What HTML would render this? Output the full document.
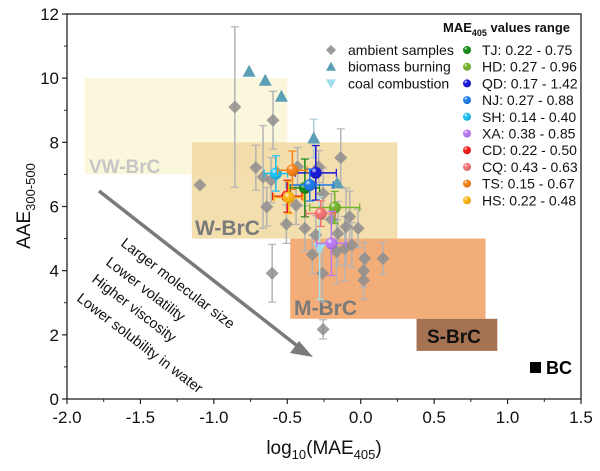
<!DOCTYPE html>
<html><head><meta charset="utf-8">
<style>
html,body{margin:0;padding:0;background:#fff;}
svg{display:block;font-family:"Liberation Sans",Arial,sans-serif;}
</style></head>
<body>
<svg id="chart" width="600" height="471" viewBox="0 0 600 471" xmlns="http://www.w3.org/2000/svg">
<defs>
<radialGradient id="shine" cx="0.35" cy="0.3" r="0.7">
<stop offset="0" stop-color="#fff" stop-opacity="0.85"/>
<stop offset="0.35" stop-color="#fff" stop-opacity="0"/>
<stop offset="1" stop-color="#000" stop-opacity="0.15"/>
</radialGradient>
</defs>
<g id="regions"></g>
<g id="arrowgrp"></g>
<g id="ambient"></g>
<g id="sources"></g>
<g id="sites"></g>
<g id="axes"></g>
<g id="legend"></g>
</svg>
<script>
// ---- data ----
const ambientX = [-1.095,-0.857,-0.597,-0.714,-0.665,-0.61,-0.64,-0.506,-0.136,-0.286,-0.43,-0.256,-0.075,-0.44,-0.38,-0.306,-0.603,-0.26,-0.256,-0.165,-0.109,-0.1,-0.018,0.027,0.152,0.02,0.02,-0.155,-0.2,-0.06,-0.33];
const ambientY = [6.67,9.1,8.69,7.21,6.92,6.82,5.99,5.45,7.52,7.24,7.24,6.4,5.68,6.04,5.32,5.11,3.92,3.92,2.17,4.59,4.69,5.37,5.32,4.38,4.38,4.0,3.7,5.16,5.6,4.8,4.5];
const ambientErr = [0,2.5,0.9,0.7,1.6,0.7,0.6,0.6,0.9,0.5,0.6,0.8,0.8,0.6,0.7,0.6,0.9,0.9,0.3,1.0,1.0,1.2,0.6,0.5,0.5,0.5,0.6,1.0,0.8,0.7,0.6];
const biomassX = [-0.76,-0.65,-0.54,-0.32,-0.16];
const biomassY = [10.2,9.92,9.42,8.12,6.72];
const biomassErr = [0,0,0,0.6,0];
const coalX = [-0.28];
const coalY = [4.7];
const coalErr = [1.6];
const siteNames = ["TJ","HD","QD","NJ","SH","XA","CD","CQ","TS","HS"];
const siteRanges = ["0.22 - 0.75","0.27 - 0.96","0.17 - 1.42","0.27 - 0.88","0.14 - 0.40","0.38 - 0.85","0.22 - 0.50","0.43 - 0.63","0.15 - 0.67","0.22 - 0.48"];
const siteColors = ["#138a13","#72b32a","#1414d8","#1b78ea","#18bff0","#bb78f2","#f01818","#f37070","#f58012","#fcb40e"];
const siteX = [-0.38,-0.177,-0.306,-0.347,-0.578,-0.2,-0.5,-0.272,-0.465,-0.49];
const siteY = [6.58,5.97,7.05,6.67,7.03,4.85,6.32,5.78,7.13,6.28];
const siteXErr = [0.1,0.17,0.14,0.16,0.08,0.1,0.1,0.1,0.1,0.1];
const siteYErr = [0.9,0.5,0.85,0.5,0.55,1.0,0.5,0.4,0.6,0.5];
const xTicks = ["-2.0","-1.5","-1.0","-0.5","0.0","0.5","1.0","1.5"];
const xTickVals = [-2,-1.5,-1,-0.5,0,0.5,1,1.5];
const yTickVals = [0,2,4,6,8,10,12];
const yTicks = ["0","2","4","6","8","10","12"];
const regionNames = ["VW-BrC","W-BrC","M-BrC","S-BrC"];
const regionX0 = [-1.88,-1.15,-0.48,0.38];
const regionX1 = [-0.5,0.25,0.85,0.93];
const regionY0 = [7,5,2.5,1.5];
const regionY1 = [10,8,5,2.5];

// ---- scales ----
const L=67,R=581,T=14,B=399;
const xs = v => L + (v+2)*(R-L)/3.5;
const ys = v => B - v*(B-T)/12;
const NS="http://www.w3.org/2000/svg";
function mk(tag, parent, attrs){const e=document.createElementNS(NS,tag);for(const k in attrs)e.setAttribute(k,attrs[k]);parent.appendChild(e);return e;}

// regions
const regG=document.getElementById('regions');
const regFill=["#fbf7dd","#f2dba6","#f3ad78","#a57352"];
const regOpacity=[1,0.92,1,1];
for(let i=0;i<regionNames.length;i++){
  const r=mk('rect',regG,{x:xs(regionX0[i]),y:ys(regionY1[i]),width:xs(regionX1[i])-xs(regionX0[i]),height:ys(regionY0[i])-ys(regionY1[i]),fill:regFill[i],'fill-opacity':regOpacity[i]});
  
  
}
const regLab=[[89,173,"#c6c6c6",19,"VW-BrC"],[195,235,"#7a7a7a",21,"W-BrC"],[294,315,"#7a7a7a",21,"M-BrC"],[427,343,"#111",19,"S-BrC"]];
regLab.forEach((l,i)=>{const t=mk('text',regG,{x:l[0],y:l[1],fill:l[2],'font-size':l[3],'font-weight':'bold'});t.textContent=l[4];
  
  });
// BC
const bc=mk('rect',regG,{x:530,y:362,width:11,height:11,fill:"#000"});


const bct=mk('text',regG,{x:546,y:374,'font-size':18,'font-weight':'bold',fill:"#000"});bct.textContent="BC";



// arrow + texts
const ag=document.getElementById('arrowgrp');
const ar=mk('line',ag,{x1:99,y1:191,x2:300,y2:348,stroke:"#7a7a7a",'stroke-width':3.5});


const ah=mk('polygon',ag,{points:"313,357 290,353 299,341",fill:"#7a7a7a"});


[["Larger molecular size",120,245],["Lower volatility",105,264],["Higher viscosity",91,281],["Lower solubility in water",76,300]].forEach(a=>{
  const t=mk('text',ag,{x:a[1],y:a[2],'font-size':14.5,fill:"#111",transform:`rotate(37.5 ${a[1]} ${a[2]})`});t.textContent=a[0];
  
  
});

// error bar helper
function vbar(g,x,y,e,col,w){if(!e)return;const px=xs(x),a=ys(y+e),b=ys(y-e);
  mk('line',g,{x1:px,y1:a,x2:px,y2:b,stroke:col,'stroke-width':w||1.5});
  mk('line',g,{x1:px-4,y1:a,x2:px+4,y2:a,stroke:col,'stroke-width':1.2});
  mk('line',g,{x1:px-4,y1:b,x2:px+4,y2:b,stroke:col,'stroke-width':1.2});}
function hbar(g,x,y,e,col){const py=ys(y),a=xs(x-e),b=xs(x+e);
  mk('line',g,{x1:a,y1:py,x2:b,y2:py,stroke:col,'stroke-width':1.5});
  mk('line',g,{x1:a,y1:py-4,x2:a,y2:py+4,stroke:col,'stroke-width':1.2});
  mk('line',g,{x1:b,y1:py-4,x2:b,y2:py+4,stroke:col,'stroke-width':1.2});}

// ambient
const amb=document.getElementById('ambient');
for(let i=0;i<ambientX.length;i++) vbar(amb,ambientX[i],ambientY[i],ambientErr[i],"#b4b4b4",1.5);
for(let i=0;i<ambientX.length;i++){const px=xs(ambientX[i]),py=ys(ambientY[i]);
  const d=mk('polygon',amb,{points:`${px},${py-6.5} ${px+6.5},${py} ${px},${py+6.5} ${px-6.5},${py}`,fill:"#8e8e8e",'fill-opacity':0.85});
  
  }

// biomass & coal
const src=document.getElementById('sources');
for(let i=0;i<biomassX.length;i++){vbar(src,biomassX[i],biomassY[i],biomassErr[i],"#a9cddb",1.5);
  const px=xs(biomassX[i]),py=ys(biomassY[i]);
  const t=mk('polygon',src,{points:`${px},${py-7} ${px+6.5},${py+5} ${px-6.5},${py+5}`,fill:"#5a9fb6"});
  
  }
for(let i=0;i<coalX.length;i++){vbar(src,coalX[i],coalY[i],coalErr[i],"#a6e1ee",1.5);
  const px=xs(coalX[i]),py=ys(coalY[i]);
  const t=mk('polygon',src,{points:`${px},${py+7} ${px+6.5},${py-5} ${px-6.5},${py-5}`,fill:"#9fdcec"});
  
  }

// sites
const sg=document.getElementById('sites');
for(let i=0;i<siteX.length;i++){
  vbar(sg,siteX[i],siteY[i],siteYErr[i],siteColors[i],1.5);
  hbar(sg,siteX[i],siteY[i],siteXErr[i],siteColors[i]);
  const c=mk('circle',sg,{cx:xs(siteX[i]),cy:ys(siteY[i]),r:6,fill:siteColors[i]});
  
  
  mk('circle',sg,{cx:xs(siteX[i]),cy:ys(siteY[i]),r:6,fill:"url(#shine)"});
}

// axes
const ax=document.getElementById('axes');
const fr=mk('rect',ax,{x:L,y:T,width:R-L,height:B-T,fill:"none",stroke:"#222",'stroke-width':1.3});


for(let i=0;i<xTickVals.length;i++){const px=xs(xTickVals[i]);
  mk('line',ax,{x1:px,y1:B,x2:px,y2:B+5,stroke:"#222",'stroke-width':1.2});
  if(i<xTickVals.length-1){const m=xs(xTickVals[i]+0.25);mk('line',ax,{x1:m,y1:B,x2:m,y2:B+3,stroke:"#222",'stroke-width':1});}
  const t=mk('text',ax,{x:px,y:B+24,'font-size':17,'text-anchor':'middle',fill:"#111"});t.textContent=xTicks[i];
  
  }
for(let i=0;i<yTickVals.length;i++){const py=ys(yTickVals[i]);
  mk('line',ax,{x1:L-5,y1:py,x2:L,y2:py,stroke:"#222",'stroke-width':1.2});
  if(i<yTickVals.length-1){const m=ys(yTickVals[i]+1);mk('line',ax,{x1:L-3,y1:m,x2:L,y2:m,stroke:"#222",'stroke-width':1});}
  const t=mk('text',ax,{x:L-8,y:py+6,'font-size':17,'text-anchor':'end',fill:"#111"});t.textContent=yTicks[i];
  
  }
const xt=mk('text',ax,{x:324,y:454,'font-size':19,'text-anchor':'middle',fill:"#111"});
xt.innerHTML='log<tspan font-size="13" dy="5">10</tspan><tspan dy="-5">(MAE</tspan><tspan font-size="13" dy="5">405</tspan><tspan dy="-5">)</tspan>';


const yt=mk('text',ax,{x:0,y:0,'font-size':19,'text-anchor':'middle',fill:"#111",transform:"translate(30,206) rotate(-90)"});
yt.innerHTML='AAE<tspan font-size="13" dy="5">300-500</tspan>';



// legend
const lg=document.getElementById('legend');
const lt=mk('text',lg,{x:443,y:32,'font-size':13,'font-weight':'bold',fill:"#111"});
lt.innerHTML='MAE<tspan font-size="9" dy="4">405</tspan><tspan dy="-4"> values range</tspan>';


const srcLab=["ambient samples","biomass burning","coal combustion"];
srcLab.forEach((s,i)=>{const y=50+i*16.7,x=331;
  let m;
  if(i==0)m=mk('polygon',lg,{points:`${x},${y-5} ${x+5},${y} ${x},${y+5} ${x-5},${y}`,fill:"#9a9a9a"});
  else if(i==1)m=mk('polygon',lg,{points:`${x},${y-5} ${x+5},${y+4} ${x-5},${y+4}`,fill:"#5a9fb6"});
  else m=mk('polygon',lg,{points:`${x},${y+5} ${x+5},${y-4} ${x-5},${y-4}`,fill:"#9fdcec"});
  
  
  const t=mk('text',lg,{x:348,y:y+5,'font-size':14,fill:"#111"});t.textContent=s;
  
  });
for(let i=0;i<siteNames.length;i++){const y=50+i*16.7;
  const c=mk('circle',lg,{cx:467,cy:y,r:4,fill:siteColors[i]});
  
  
  mk('circle',lg,{cx:467,cy:y,r:4,fill:"url(#shine)"});
  const t=mk('text',lg,{x:482,y:y+5,'font-size':14,fill:"#111"});
  t.setAttribute('xml:space','preserve');
  t.textContent=siteNames[i]+":"+(siteNames[i]=="TJ"?"  ":" ")+siteRanges[i];
  
  }
</script>
</body></html>
